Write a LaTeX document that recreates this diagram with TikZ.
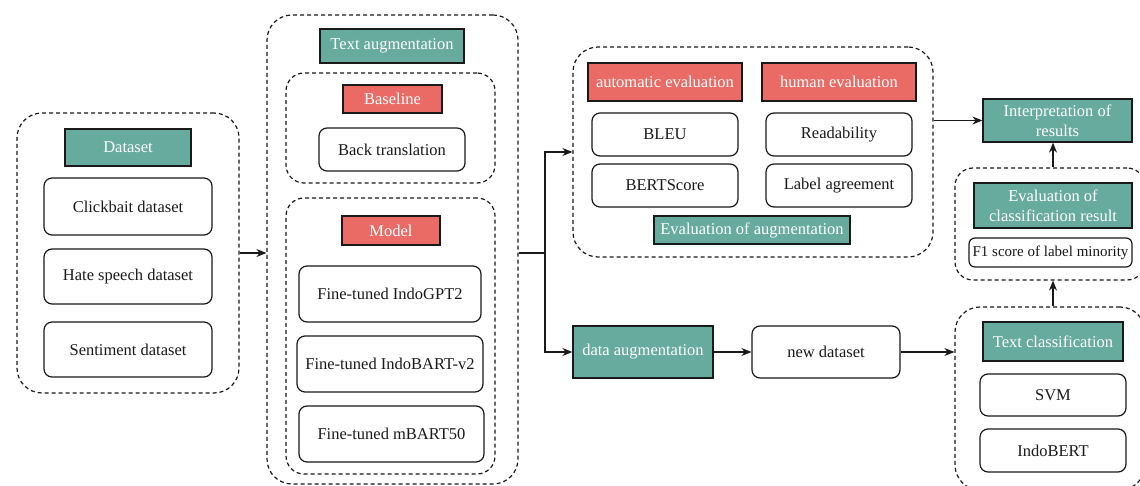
\documentclass[tikz,border=0pt]{standalone}
\usepackage{fontspec}
\setmainfont{Liberation Serif}
\usetikzlibrary{arrows.meta,calc}
\definecolor{teal}{HTML}{67AB9F}
\definecolor{redh}{HTML}{EA6B66}
\definecolor{ink}{HTML}{1A1A1A}
\tikzset{
  base/.style={inner sep=0pt, align=center, font=\fontsize{16.5}{20}\selectfont, text=ink},
  wbox/.style={base, draw=ink, line width=1.2pt, rounded corners=8pt, fill=white},
  thead/.style={base, draw=ink, line width=1.3pt, fill=teal, text=white},
  rhead/.style={base, draw=ink, line width=1.3pt, fill=redh, text=white},
  grp/.style={draw=ink, line width=1.2pt, dash pattern=on 4pt off 3pt, rounded corners=25pt},
  sgrp/.style={draw=ink, line width=1.2pt, dash pattern=on 4pt off 3pt, rounded corners=18pt},
  wire/.style={draw=ink, line width=1.2pt},
  arr/.style={wire, -{Stealth[length=10pt,width=8pt]}},
}
\newcommand{\bx}[6]{\node[#1, minimum width=#4pt, minimum height=#5pt] (#2) at (#3) {#6};}
\begin{document}
\begin{tikzpicture}[x=1pt,y=-1pt]
\useasboundingbox (0,0) rectangle (1140,486);
\clip (0,0) rectangle (1140,486);
\fill[white] (0,0) rectangle (1140,486);
% dataset
\bx{grp}{dsout}{128,253}{222}{280}{}
\bx{thead}{dshead}{128,147.5}{126}{37}{Dataset}
\bx{wbox}{click}{128,206.5}{168}{57}{Clickbait dataset}
\bx{wbox}{hate}{128,276.5}{168}{55}{Hate speech dataset}
\bx{wbox}{sent}{128,349.5}{168}{55}{Sentiment dataset}
% text augmentation
\bx{grp}{taout}{392.5,249.5}{251}{469}{}
\bx{thead}{tahead}{392,46}{144}{34}{Text augmentation}
\bx{sgrp}{blout}{390.5,128}{209}{110}{}
\bx{rhead}{blhead}{392.5,99}{99}{28}{Baseline}
\bx{wbox}{bt}{392,149.5}{146}{43}{Back translation}
\bx{sgrp}{mdout}{390.5,336}{209}{276}{}
\bx{rhead}{mdhead}{391,230.5}{98}{29}{Model}
\bx{wbox}{gpt}{390,294}{182}{56}{Fine-tuned IndoGPT2}
\bx{wbox}{bart}{390,364}{186}{56}{Fine-tuned IndoBART-v2}
\bx{wbox}{mbart}{391.5,434}{185}{56}{Fine-tuned mBART50}
% evaluation of augmentation
\bx{grp}{evout}{753,152}{360}{210}{}
\bx{rhead}{autoh}{665,82}{154}{38}{automatic evaluation}
\bx{rhead}{humh}{839,82}{154}{38}{human evaluation}
\bx{wbox}{bleu}{665,134.5}{146}{43}{BLEU}
\bx{wbox}{read}{839,134.5}{146}{43}{Readability}
\bx{wbox}{bert}{665,185.5}{146}{43}{BERTScore}
\bx{wbox}{label}{839,185.5}{146}{43}{Label agreement}
\bx{thead}{evaug}{752,230}{196}{28}{Evaluation of augmentation}
% data augmentation
\bx{thead}{dataaug}{643,352}{140}{52}{data augmentation}
\bx{wbox}{newds}{826,352}{148}{52}{new dataset}
% right column
\bx{thead}{interp}{1057.5,120.5}{149}{43}{Interpretation of\\results}
\bx{sgrp}{ecout}{1050,224}{190}{112}{}
\bx{thead}{echead}{1053,205.5}{158}{45}{Evaluation of\\classification result}
\node[wbox, rounded corners=6pt, minimum width=163pt, minimum height=29pt, font=\fontsize{15}{18}\selectfont] (f1) at (1050.5,252.5) {F1 score of label minority};
\bx{grp}{tcout}{1050,398.5}{190}{183}{}
\bx{thead}{tchead}{1053,341.5}{140}{39}{Text classification}
\bx{wbox}{svm}{1053,395}{146}{42}{SVM}
\bx{wbox}{indobert}{1053,450.5}{146}{43}{IndoBERT}
% connectors
\coordinate (j) at (545,253);
\draw[arr] (dsout.east) -- (dsout.east -| taout.west);
\draw[wire] (taout.east |- j) -- (j);
\draw[arr] (j) |- (evout.west);
\draw[arr] (j) |- (dataaug.west);
\draw[arr] (dataaug.east) -- (newds.west);
\draw[arr] (newds.east) -- (newds.east -| tcout.west);
\draw[arr] (evout.east |- interp.west) -- (interp.west);
\draw[arr] (ecout.north -| echead) -- (interp.south -| echead);
\draw[arr] (tcout.north -| echead) -- (ecout.south -| echead);
\end{tikzpicture}
\end{document}
